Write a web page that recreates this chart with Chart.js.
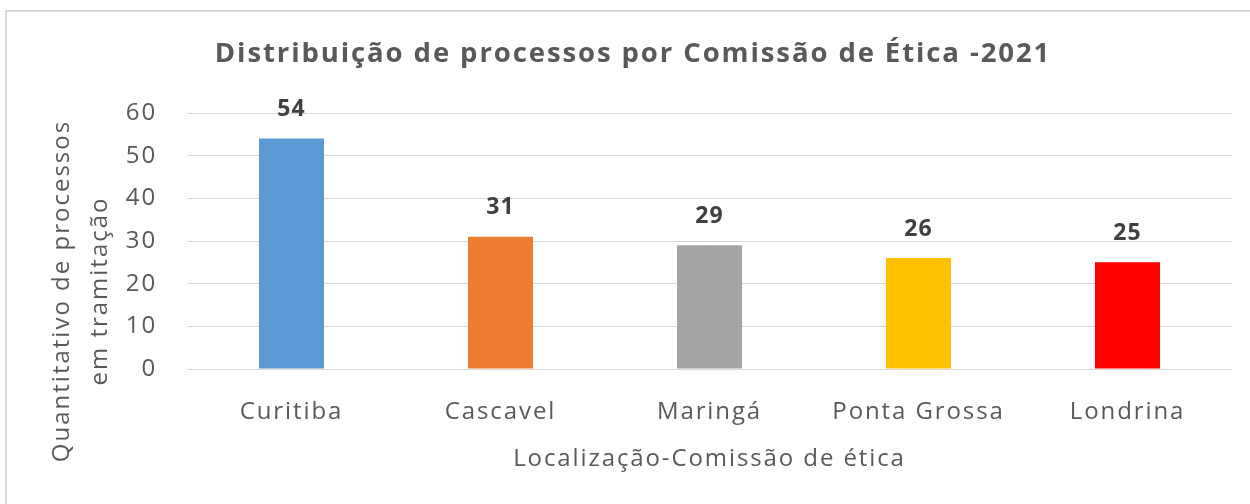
<!DOCTYPE html>
<html>
<head>
<meta charset="utf-8">
<script src="https://cdn.jsdelivr.net/npm/chart.js@4.4.1/dist/chart.umd.min.js"></script>
<style>
  html, body { margin: 0; padding: 0; background: #ffffff; }
  #wrap { position: relative; width: 1250px; height: 504px; }
</style>
</head>
<body>
<div id="wrap"><canvas id="c" width="1250" height="504"></canvas></div>
<script>
const categories = ["Curitiba", "Cascavel", "Maringá", "Ponta Grossa", "Londrina"];
const values = [54, 31, 29, 26, 25];
const barColors = ["#5B9BD5", "#ED7D31", "#A5A5A5", "#FFC000", "#FF0000"];
const yTicks = [0, 10, 20, 30, 40, 50, 60];
const chartTitle = "Distribuição de processos por Comissão de Ética -2021";
const xTitle = "Localização-Comissão de ética";
const yTitleLines = ["Quantitativo de processos", "em tramitação"];

const FONT = "'Open Sans', 'DejaVu Sans', sans-serif";
const TEXT = "#595959";

const framePlugin = {
  id: 'frame',
  beforeDraw(chart) {
    const ctx = chart.ctx;
    ctx.save();
    ctx.fillStyle = '#D9D9D9';
    ctx.fillRect(5, 10, 1245, 2);
    ctx.fillRect(5, 10, 2, 494);
    ctx.restore();
    ctx.letterSpacing = '1.9px';
  }
};

const labelsPlugin = {
  id: 'extras',
  afterDraw(chart) {
    const ctx = chart.ctx;
    const meta = chart.getDatasetMeta(0);
    ctx.save();
    ctx.letterSpacing = '1px';
    ctx.font = "bold 23px " + FONT;
    ctx.fillStyle = '#404040';
    ctx.textAlign = 'center';
    ctx.textBaseline = 'middle';
    meta.data.forEach((bar, i) => {
      ctx.fillText(String(values[i]), bar.x, bar.y - 29);
    });
    // y axis title
    ctx.letterSpacing = '2px';
    ctx.font = "500 24px " + FONT;
    ctx.fillStyle = TEXT;
    const cy = 291;
    const xs = [62, 100];
    yTitleLines.forEach((t, i) => {
      ctx.save();
      ctx.translate(xs[i], cy);
      ctx.rotate(-Math.PI / 2);
      ctx.fillText(t, 0, 0);
      ctx.restore();
    });
    ctx.restore();
  }
};

new Chart(document.getElementById('c'), {
  type: 'bar',
  data: {
    labels: categories,
    datasets: [{
      data: values,
      backgroundColor: barColors,
      borderWidth: 0,
      categoryPercentage: 1.0,
      barPercentage: 0.311
    }]
  },
  options: {
    responsive: false,
    animation: false,
    devicePixelRatio: 1,
    layout: { padding: { left: 34, right: 18, top: 0, bottom: 0 } },
    plugins: {
      legend: { display: false },
      tooltip: { enabled: false },
      title: {
        display: true,
        text: chartTitle,
        color: TEXT,
        font: { family: FONT, size: 27.5, weight: 'bold', lineHeight: 1.2 },
        padding: { top: 38, bottom: 42 }
      }
    },
    scales: {
      x: {
        grid: { display: false, drawTicks: false },
        border: { display: false },
        ticks: {
          color: TEXT,
          font: { family: FONT, size: 24, weight: '500' },
          padding: 29,
          maxRotation: 0,
          autoSkip: false
        },
        title: {
          display: true,
          text: xTitle,
          color: TEXT,
          font: { family: FONT, size: 24, weight: '500', lineHeight: 1.2 },
          padding: { top: 0, bottom: 30 }
        },
        afterFit(scale) { scale.height = 135; }
      },
      y: {
        min: 0,
        max: 60,
        afterBuildTicks(scale) { scale.ticks = yTicks.map(v => ({ value: v })); },
        grid: { color: '#D9D9D9', lineWidth: 1, drawTicks: false },
        border: { display: false },
        ticks: {
          color: TEXT,
          font: { family: FONT, size: 24, weight: '500' },
          padding: 30
        },
        afterFit(scale) { scale.width = 153; }
      }
    }
  },
  plugins: [framePlugin, labelsPlugin]
});
</script>
</body>
</html>
